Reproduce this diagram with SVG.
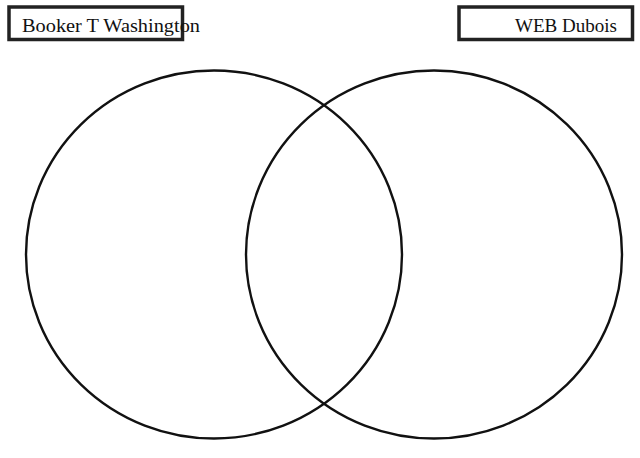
<svg xmlns="http://www.w3.org/2000/svg" width="640" height="458" viewBox="0 0 640 458">
<style>
.box{fill:#fff;stroke:#222;stroke-width:3.5}
.lbl{font-family:"Liberation Serif","Times New Roman",serif;font-size:19px;fill:#111}
.ring{fill:none;stroke:#111;stroke-width:2.4}
</style>
<rect width="640" height="458" fill="#fff"/>
<g id="venn">
<ellipse class="ring" cx="214" cy="254.5" rx="188" ry="184"/>
<ellipse class="ring" cx="434" cy="254.5" rx="188" ry="184"/>
</g>
<g id="label-washington">
<rect class="box" x="9" y="7" width="173.5" height="32.5"/>
<text class="lbl" x="22" y="32" textLength="178" lengthAdjust="spacingAndGlyphs">Booker T Washington</text>
</g>
<g id="label-dubois">
<rect class="box" x="459" y="7" width="173.5" height="32.5"/>
<text class="lbl" x="515" y="32" textLength="102" lengthAdjust="spacingAndGlyphs">WEB Dubois</text>
</g>
</svg>
